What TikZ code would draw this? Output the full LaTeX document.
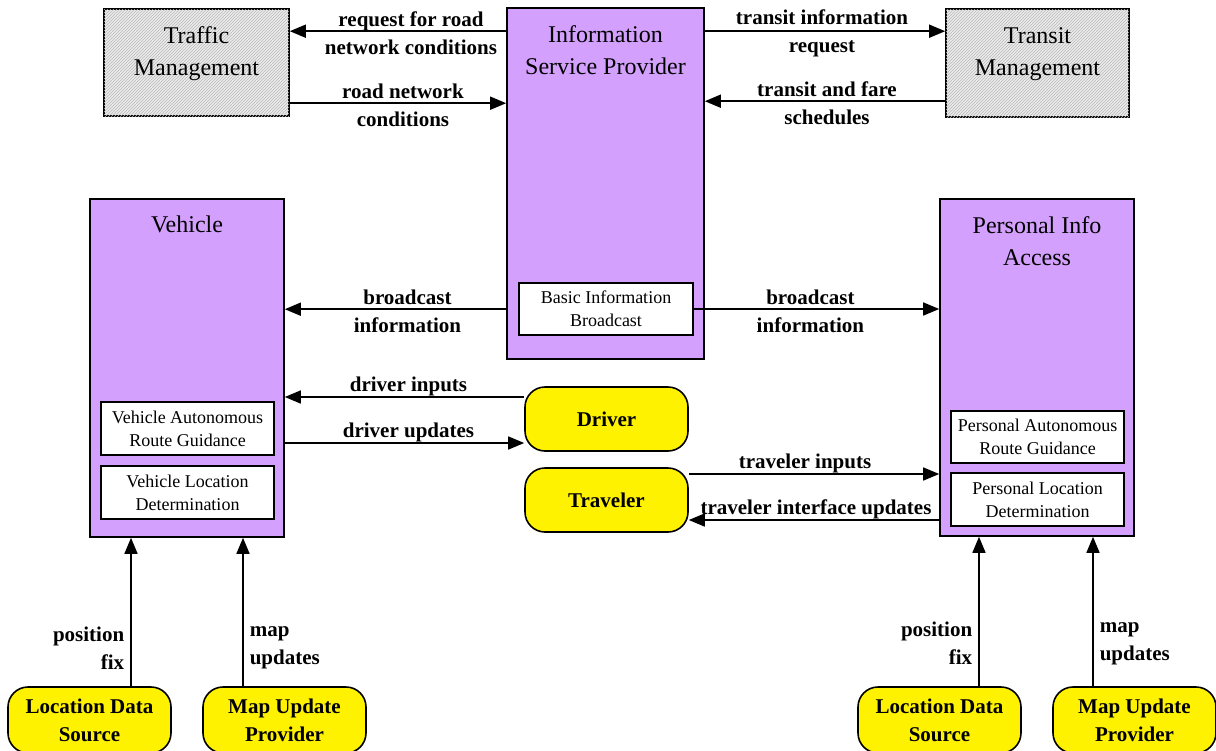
\documentclass[tikz,border=0pt]{standalone}
\usepackage{fontspec}
\setmainfont{Liberation Serif}
\usetikzlibrary{arrows.meta,patterns}
\definecolor{ispviolet}{RGB}{212,160,253}
\definecolor{hatchgray}{RGB}{236,236,236}
\begin{document}
\begin{tikzpicture}[x=1pt, y=-1pt]
	\tikzset{
		bigbox/.style={draw, line width=1.6pt, fill=ispviolet, inner sep=0pt},
		extbox/.style={draw, line width=1.6pt, fill=hatchgray, postaction={pattern=north east lines, pattern color=gray!55}, inner sep=0pt, text depth=23pt, font=\fontsize{24}{32}\selectfont, align=center},
		boxtitle/.style={font=\fontsize{24}{32}\selectfont, align=center, inner sep=0pt},
		subbox/.style={draw, line width=1.2pt, fill=white, font=\fontsize{18}{23}\selectfont, align=center, minimum width=173pt, minimum height=53pt, inner sep=0pt},
		term/.style={draw, line width=1.6pt, fill=yellow, rounded corners=20pt, font=\fontsize{21}{28}\bfseries, align=center, minimum width=163pt, minimum height=64pt, inner sep=0pt},
		flow/.style={-{Triangle[length=16pt,width=13pt]}, line width=1.6pt},
		flowlbl/.style={font=\fontsize{21}{28}\bfseries, align=center, inner sep=2pt, yshift=-2pt}
	}
	\useasboundingbox (0,0) rectangle (1216,750);

	\node[extbox, minimum width=185pt, minimum height=107pt] (tm) at (196.5,62.5) {Traffic\\Management};
	\node[extbox, minimum width=183pt, minimum height=108pt] (trm) at (1037.5,63) {Transit\\Management};

	\node[bigbox, minimum width=197pt, minimum height=351pt] (isp) at (605.5,183.5) {};
	\node[boxtitle, anchor=north] (ispt) at ([yshift=-18.5pt]isp.north) {Information\\Service Provider};
	\node[subbox, minimum width=174pt, minimum height=52pt] (bib) at (606,309) {Basic Information\\Broadcast};

	\node[bigbox, minimum width=194pt, minimum height=338pt] (veh) at (187,368) {};
	\node[boxtitle, anchor=north] (veht) at ([yshift=-17.5pt]veh.north) {Vehicle};
	\node[subbox] (varg) at (187.5,428.5) {Vehicle Autonomous\\Route Guidance};
	\node[subbox] (vld) at (187.5,492.5) {Vehicle Location\\Determination};

	\node[bigbox, minimum width=194pt, minimum height=337pt] (pia) at (1037,367.5) {};
	\node[boxtitle, anchor=north] (piat) at ([yshift=-18pt]pia.north) {Personal Info\\Access};
	\node[subbox, minimum height=52pt] (parg) at (1037.5,437) {Personal Autonomous\\Route Guidance};
	\node[subbox] (pld) at (1037.5,499.5) {Personal Location\\Determination};

	\node[term] (drv) at (606.5,419) {Driver};
	\node[term] (trv) at (606.5,500) {Traveler};

	\node[term, minimum height=66pt] (lds1) at (89.5,720) {Location Data\\Source};
	\node[term, minimum height=66pt] (mup1) at (284.5,720) {Map Update\\Provider};
	\node[term, minimum height=66pt] (lds2) at (939.5,720) {Location Data\\Source};
	\node[term, minimum height=66pt] (mup2) at (1134.5,720) {Map Update\\Provider};

	\draw[flow] ([yshift=-24pt]isp.north west) -- ([yshift=-23pt]tm.north east)
		node[flowlbl, midway, xshift=13pt] (lreq) {request for road\\network conditions};
	\draw[flow] ([yshift=-95pt]tm.north east) -- ([yshift=-96pt]isp.north west)
		node[flowlbl, midway, xshift=5pt] (lrnc) {road network\\conditions};
	\draw[flow] ([yshift=-24pt]isp.north east) -- ([yshift=-23pt]trm.north west)
		node[flowlbl, midway, xshift=-3pt] (ltir) {transit information\\request};
	\draw[flow] ([yshift=-93pt]trm.north west) -- ([yshift=-94pt]isp.north east)
		node[flowlbl, midway, xshift=2pt] (ltfs) {transit and fare\\schedules};

	\draw[flow] ([yshift=-302pt]isp.north west) -- ([yshift=-111pt]veh.north east)
		node[flowlbl, midway, xshift=12pt] (lbi1) {broadcast\\information};
	\draw[flow] (bib.east) -- (bib.east -| pia.west)
		node[flowlbl, midway, xshift=-6pt] (lbi2) {broadcast\\information};

	\coordinate (di) at ([yshift=22pt]drv.west);
	\draw[flow] (di) -- (di -| veh.east) node[flowlbl, midway, above, xshift=4pt] (ldi) {driver inputs};
	\coordinate (du) at ([yshift=-75pt]veh.east);
	\draw[flow] (du) -- (du -| drv.west) node[flowlbl, midway, above, xshift=4pt] (ldu) {driver updates};
	\coordinate (ti) at ([yshift=26pt]trv.east);
	\draw[flow] (ti) -- (ti -| pia.west) node[flowlbl, midway, above, xshift=-9pt] (lti) {traveler inputs};
	\coordinate (tu) at ([yshift=-152.5pt]pia.west);
	\draw[flow] (tu) -- (tu -| trv.east) node[flowlbl, midway, above, xshift=2pt] (ltu) {traveler interface updates};

	\coordinate (pf1) at ([xshift=41.5pt]lds1.north);
	\draw[flow] (pf1) -- (pf1 |- veh.south) node[flowlbl, pos=0.27, left, align=right, xshift=-4pt] (lpf1) {position\\fix};
	\coordinate (mu1) at ([xshift=-41.5pt]mup1.north);
	\draw[flow] (mu1) -- (mu1 |- veh.south) node[flowlbl, pos=0.27, right, align=left, xshift=4pt] (lmu1) {map\\updates};
	\coordinate (pf2) at ([xshift=39.5pt]lds2.north);
	\draw[flow] (pf2) -- (pf2 |- pia.south) node[flowlbl, pos=0.3, left, align=right, xshift=-4pt] (lpf2) {position\\fix};
	\coordinate (mu2) at ([xshift=-41.5pt]mup2.north);
	\draw[flow] (mu2) -- (mu2 |- pia.south) node[flowlbl, pos=0.3, right, align=left, xshift=4pt] (lmu2) {map\\updates};
\end{tikzpicture}
\end{document}
